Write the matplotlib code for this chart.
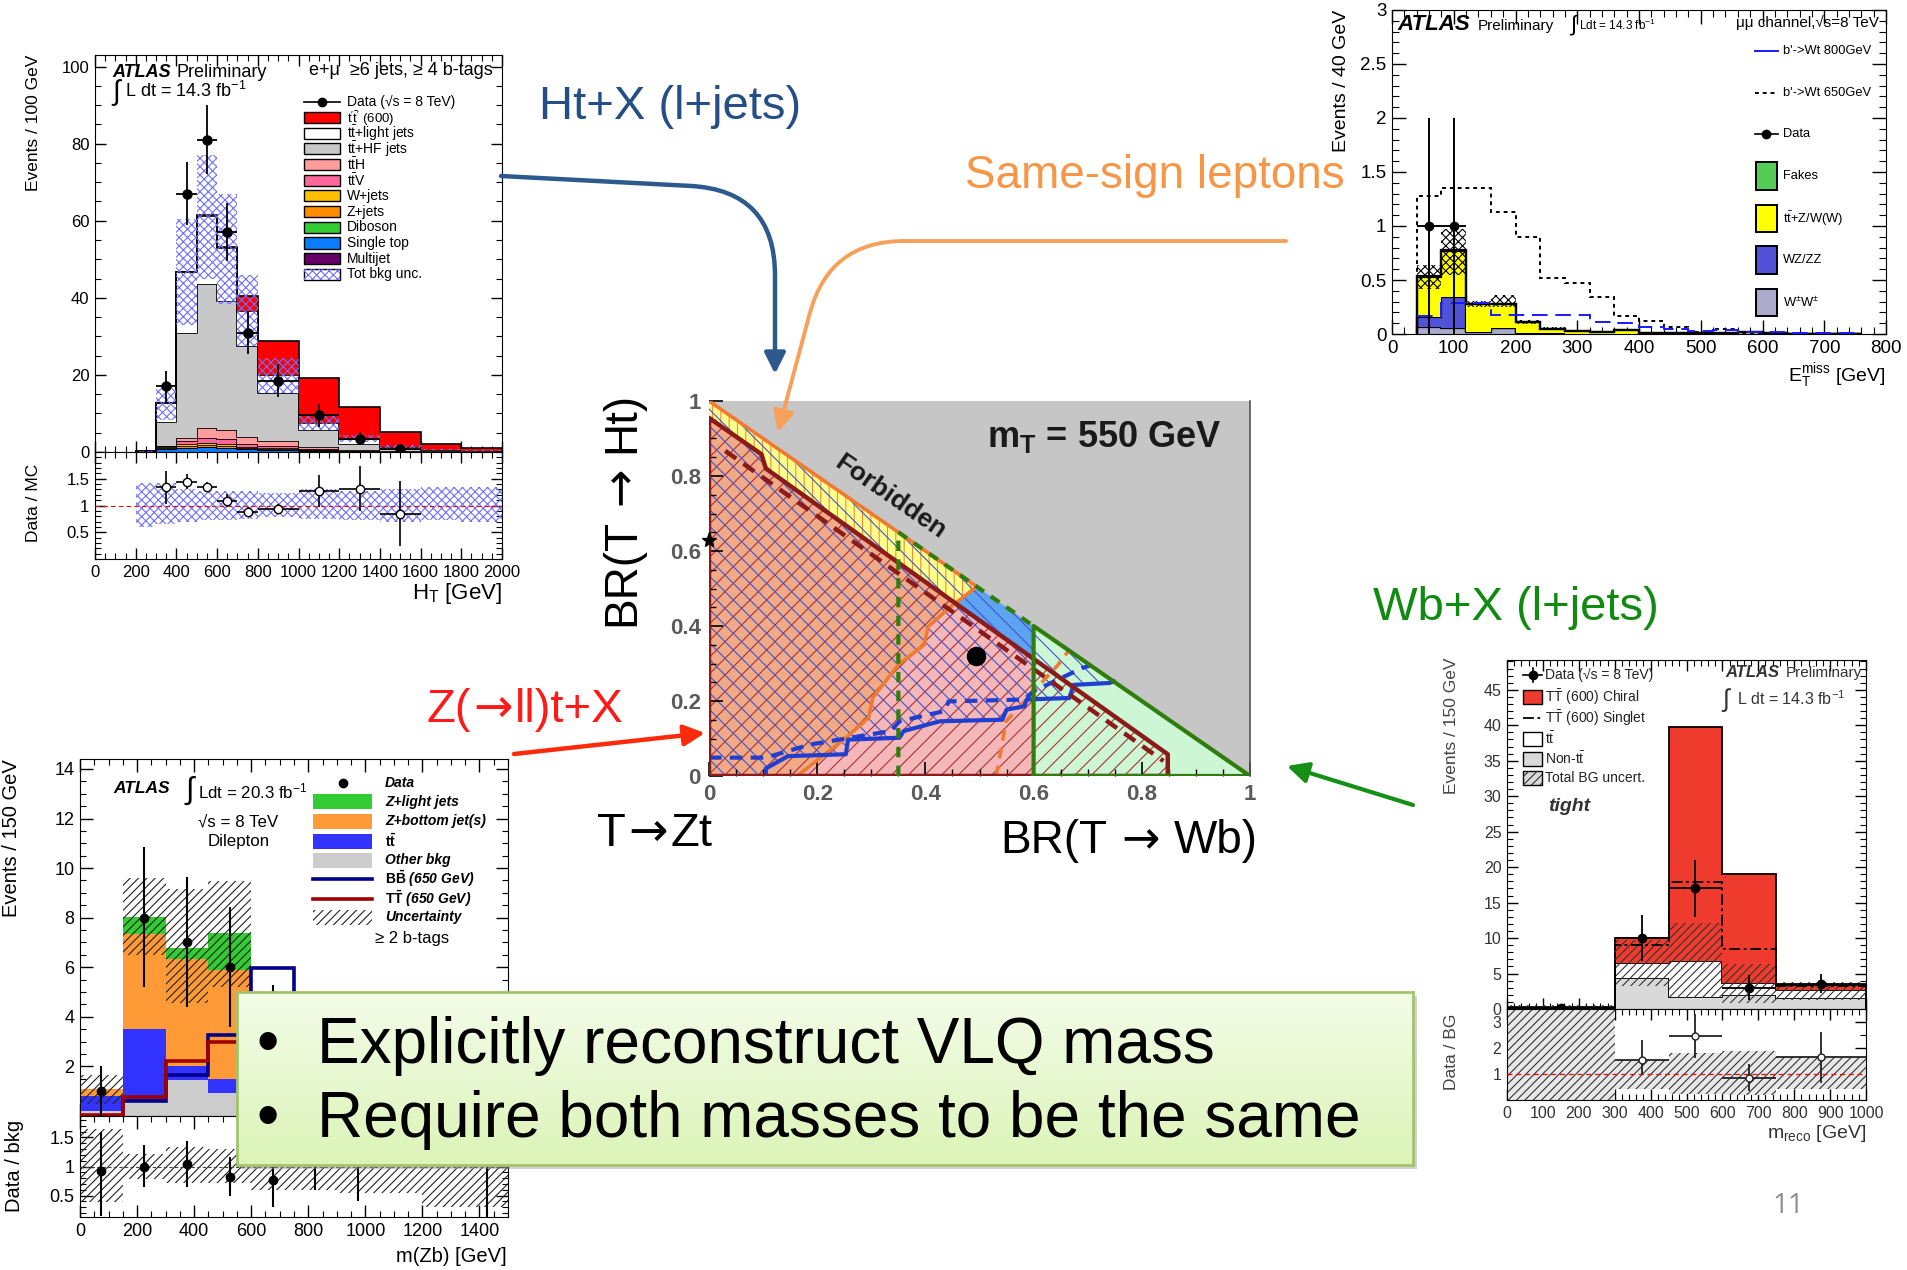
import numpy as np
import matplotlib
matplotlib.use("Agg")
import matplotlib.pyplot as plt
from matplotlib.patches import Rectangle, Polygon, FancyArrowPatch
from matplotlib.ticker import MultipleLocator, FixedLocator, FuncFormatter

plt.rcParams['font.family'] = ['Liberation Sans', 'DejaVu Sans']
plt.rcParams['mathtext.fontset'] = 'custom'
plt.rcParams['mathtext.rm'] = 'Liberation Sans'
plt.rcParams['mathtext.it'] = 'Liberation Sans:italic'
plt.rcParams['mathtext.bf'] = 'Liberation Sans:bold'
plt.rcParams['mathtext.sf'] = 'Liberation Sans'
plt.rcParams['hatch.linewidth'] = 0.8

# ======================= DATA =======================
# --- top-left: HT distribution (e+mu, >=6 jets, >=4 b-tags)
ht_edges = [200, 300, 400, 500, 600, 700, 800, 1000, 1200, 1400, 1600, 1800, 2000]
ht_multijet = [0, 0.05, 0.1, 0.1, 0.1, 0.1, 0.05, 0.05, 0, 0, 0, 0]
ht_singletop = [0, 0.7, 1.0, 1.2, 1.0, 0.6, 0.5, 0.3, 0.1, 0.05, 0, 0]
ht_diboson = [0, 0.05, 0.05, 0.05, 0.05, 0.05, 0.03, 0.02, 0, 0, 0, 0]
ht_zjets = [0, 0.2, 0.3, 0.4, 0.3, 0.2, 0.2, 0.1, 0.05, 0, 0, 0]
ht_wjets = [0, 0.3, 0.5, 0.6, 0.5, 0.3, 0.3, 0.1, 0.05, 0, 0, 0]
ht_ttv = [0, 0.2, 0.9, 1.3, 1.5, 0.9, 0.6, 0.3, 0.15, 0.05, 0.02, 0]
ht_tth = [0, 0.1, 0.8, 2.6, 2.2, 1.7, 1.3, 0.4, 0.2, 0.05, 0.02, 0]
ht_tthf = [0.1, 6.1, 27.35, 37.35, 33.45, 23.75, 12.3, 4.5, 1.65, 0.7, 0.26, 0.1]
ht_ttlight = [0.05, 5.0, 15.8, 17.6, 13.9, 8.9, 4.6, 1.75, 1.25, 0.45, 0.3, 0.2]
ht_signal = [0, 0, 0, 0.2, 0.3, 4.1, 9.0, 11.8, 8.35, 3.85, 1.4, 0.75]
ht_unc_lo = [0.1, 8.4, 33, 45, 38.4, 27.6, 15.3, 5.6, 2.5, 0.9, 0.4, 0.2]
ht_unc_hi = [0.2, 17, 60.4, 77, 67, 45.8, 24.5, 9.4, 4.4, 1.7, 0.8, 0.4]
ht_data_x = [350, 450, 550, 650, 750, 900, 1100, 1300, 1500]
ht_data_xerr = [50, 50, 50, 50, 50, 100, 100, 100, 100]
ht_data_y = [17, 67, 81, 57, 31, 18.5, 9.5, 3.5, 0.8]
ht_data_err = [4.1, 8.2, 9, 7.5, 5.5, 4.3, 3.0, 1.8, 1.0]
ht_ratio_y = [1.35, 1.43, 1.34, 1.08, 0.88, 0.93, 1.28, 1.31, 0.85]
ht_ratio_lo = [0.33, 0.13, 0.09, 0.10, 0.08, 0.08, 0.30, 0.42, 0.60]
ht_ratio_hi = [0.30, 0.15, 0.10, 0.14, 0.10, 0.10, 0.29, 0.42, 0.60]
ht_rband_lo = [0.6, 0.65, 0.7, 0.72, 0.72, 0.75, 0.78, 0.75, 0.72, 0.7, 0.72, 0.7]
ht_rband_hi = [1.42, 1.42, 1.3, 1.28, 1.28, 1.28, 1.23, 1.3, 1.28, 1.3, 1.35, 1.35]

# --- top-right: MET, same-sign mu mu
met_edges = [40, 80, 120, 160, 200, 240, 280, 320, 360, 400, 440, 480, 520, 560, 600, 640, 680, 720, 760]
met_ww = [0.0625, 0.056, 0.016, 0.06, 0.005, 0.005, 0.002, 0, 0, 0, 0, 0, 0, 0, 0, 0, 0, 0]
met_wz = [0.094, 0.284, 0.004, 0, 0.005, 0, 0, 0, 0, 0, 0, 0, 0, 0, 0, 0, 0, 0]
met_ttv = [0.374, 0.43, 0.26, 0.22, 0.10, 0.042, 0.023, 0.02, 0.037, 0.008, 0.005, 0.005, 0.01, 0.02, 0.005, 0.003, 0, 0]
met_fakes = [0.005, 0.005, 0, 0, 0, 0, 0, 0, 0, 0, 0, 0, 0, 0, 0, 0, 0, 0]
met_unc_lo = [0.42, 0.55, 0.25, 0.25, 0.09, 0.04, 0.02, 0.015, 0.03, 0.005, 0.003, 0.003, 0.006, 0.015, 0.003, 0.002, 0, 0]
met_unc_hi = [0.64, 0.97, 0.31, 0.36, 0.13, 0.065, 0.035, 0.03, 0.045, 0.012, 0.008, 0.008, 0.015, 0.03, 0.008, 0.005, 0, 0]
met_b650 = [1.275, 1.35, 1.35, 1.13, 0.897, 0.52, 0.475, 0.344, 0.166, 0.125, 0.0625, 0.015, 0.047, 0.01, 0.005, 0.003, 0, 0]
met_b800 = [0.17, 0.29, 0.29, 0.18, 0.18, 0.18, 0.18, 0.115, 0.1, 0.0625, 0.047, 0.025, 0.04, 0.02, 0.015, 0.008, 0.005, 0.005]
met_data_x = [60, 100]
met_data_y = [1, 1]
met_data_err = [1, 1]

# --- center: BR(T->Wb) vs BR(T->Ht) exclusion, mT = 550 GeV
allowed_x = [0, 1, 0]
allowed_y = [0, 0, 1]
zt_obs_x = [0, 0, 0.097, 0.105, 0.848, 0.848]
zt_obs_y = [0, 0.955, 0.858, 0.82, 0.058, 0]
zt_exp_x = [0.03, 0.84]
zt_exp_y = [0.867, 0.04]
ss_obs_x = [0.163, 0.253, 0.295, 0.303, 0.351, 0.398, 0.405, 0.443, 0.495]
ss_obs_y = [0, 0.102, 0.155, 0.210, 0.298, 0.350, 0.398, 0.447, 0.505]
ss_exp_x = [0.53, 0.534, 0.549, 0.645, 0.665]
ss_exp_y = [0, 0.022, 0.146, 0.296, 0.335]
htx_obs_x = [0.105, 0.105, 0.146, 0.253, 0.257, 0.352, 0.36, 0.427, 0.542, 0.55, 0.583, 0.587, 0.666, 0.674, 0.74, 0.748]
htx_obs_y = [0, 0.02, 0.053, 0.058, 0.097, 0.102, 0.12, 0.146, 0.150, 0.177, 0.186, 0.204, 0.208, 0.243, 0.248, 0.252]
htx_exp_x = [0, 0.105, 0.187, 0.336, 0.352, 0.435, 0.443, 0.583, 0.6, 0.69, 0.705]
htx_exp_y = [0.049, 0.049, 0.084, 0.12, 0.146, 0.173, 0.199, 0.204, 0.226, 0.288, 0.295]
wb_obs_x = [0.6, 1.0, 0.6]
wb_obs_y = [0, 0, 0.4]
wb_exp_x = [0.35, 0.35, 0.6]
wb_exp_y = [0, 0.65, 0.4]
best_fit = (0.493, 0.319)
star_pt = (0.0, 0.63)

# --- bottom-left: m(Zb), dilepton >=2 b-tags
zb_edges = [0, 150, 300, 450, 600, 750, 900, 1050, 1200, 1350, 1500]
zb_other = [0.19, 0.66, 1.47, 0.93, 0.7, 0.5, 0.3, 0.2, 0.1, 0.05]
zb_tt = [0.61, 2.83, 0.56, 0.56, 0.4, 0.25, 0.15, 0.1, 0.05, 0.02]
zb_zbottom = [0.29, 3.86, 4.31, 4.41, 1.8, 1.2, 0.7, 0.4, 0.2, 0.1]
zb_zlight = [0.0, 0.67, 0.42, 1.49, 0.3, 0.2, 0.1, 0.05, 0.03, 0.01]
zb_unc_lo = [0.5, 6.5, 4.56, 5.2, 2.5, 1.5, 0.8, 0.4, 0.2, 0.1]
zb_unc_hi = [1.67, 9.6, 9.14, 9.47, 4.5, 3.2, 1.8, 1.0, 0.6, 0.3]
zb_bb650 = [0.02, 0.6, 1.65, 3.28, 5.97, 4.0, 1.5, 0.6, 0.2, 0.1]
zb_tt650 = [0.05, 0.75, 2.21, 2.97, 3.2, 2.0, 1.0, 0.5, 0.2, 0.1]
zb_data_x = [75, 225, 375, 525, 675, 825, 975, 1425]
zb_data_y = [1, 8, 7, 6, 3, 2, 1, 0.4]
zb_data_lo = [1.0, 2.8, 2.6, 2.4, 1.6, 1.3, 0.8, 0.35]
zb_data_hi = [1.0, 2.85, 2.65, 2.44, 2.3, 2.0, 1.5, 1.2]
zb_ratio_x = [75, 225, 375, 525, 675, 825, 975, 1425]
zb_ratio_y = [0.93, 1.0, 1.04, 0.82, 0.77, 1.1, 1.1, 1.1]
zb_ratio_lo = [0.79, 0.35, 0.39, 0.33, 0.46, 0.5, 0.7, 1.0]
zb_ratio_hi = [0.67, 0.37, 0.40, 0.35, 0.46, 0.5, 0.7, 1.0]
zb_rband_lo = [0.38, 0.78, 0.71, 0.71, 0.6, 0.6, 0.55, 0.55, 0.3, 0.3]
zb_rband_hi = [1.65, 1.21, 1.34, 1.31, 1.4, 1.4, 1.45, 1.45, 1.7, 1.7]

# --- bottom-right: m_reco, tight
mr_edges = [0, 300, 450, 600, 750, 1000]
mr_nontt = [0.1, 4.3, 1.74, 2.0, 1.5]
mr_tt = [0.1, 2.2, 4.96, 1.6, 1.2]
mr_chiral = [0.05, 3.5, 33.0, 15.4, 0.7]
mr_singlet = [0.2, 9.0, 17.9, 8.4, 3.2]
mr_unc_lo = [0.0, 3.2, 1.5, 0.8, 1.3]
mr_unc_hi = [0.5, 9.7, 12.1, 6.4, 3.8]
mr_data_x = [150, 375, 525, 675, 875]
mr_data_xerr = [150, 75, 75, 75, 125]
mr_data_y = [0.2, 10, 17, 3, 3.5]
mr_data_lo = [0.2, 3.2, 4.0, 1.7, 1.2]
mr_data_hi = [0.3, 3.2, 4.0, 1.8, 1.5]
mr_ratio_x = [375, 525, 675, 875]
mr_ratio_xerr = [75, 75, 75, 125]
mr_ratio_y = [1.55, 2.45, 0.85, 1.65]
mr_ratio_lo = [0.6, 0.85, 0.5, 1.0]
mr_ratio_hi = [0.75, 0.85, 0.55, 0.95]
mr_rband_lo = [0.0, 0.42, 0.25, 0.2, 0.42]
mr_rband_hi = [3.5, 1.54, 1.8, 1.9, 1.67]

# ======================= HELPERS =======================
W, H = 1907, 1270
fig = plt.figure(figsize=(W / 100, H / 100), dpi=100)
fig.patch.set_facecolor('white')
_renderer = fig.canvas.get_renderer()
LIB = ['Liberation Sans']
DJV = ['DejaVu Sans']


def add_ax(l, t, r, b, **kw):
    return fig.add_axes([l / W, 1 - b / H, (r - l) / W, (b - t) / H], **kw)


def ftext(x, y, s, **kw):
    return fig.text(x / W, 1 - y / H, s, **kw)


def compose(center, base, pieces, fontsize, color, vertical=False):
    """Text assembled from pieces with their own font family; None string = gap in em."""
    widths = []
    for s, fam in pieces:
        if s is None:
            widths.append(fam * fontsize * 100 / 72)
        else:
            t = fig.text(0, 0, s, fontsize=fontsize, family=fam)
            widths.append(t.get_window_extent(_renderer).width)
            t.remove()
    pos = -sum(widths) / 2
    for (s, fam), w in zip(pieces, widths):
        if s is not None:
            if vertical:
                ftext(base, center - pos, s, fontsize=fontsize, family=fam, color=color,
                      rotation=90, rotation_mode='anchor', ha='left', va='baseline')
            else:
                ftext(center + pos, base, s, fontsize=fontsize, family=fam, color=color,
                      ha='left', va='baseline')
        pos += w


gfmt = FuncFormatter(lambda v, p: f"{v:g}")


def root_style(ax, xmaj, xmin, ymaj, ymin, size, length=8, top=True, right=True):
    ax.xaxis.set_major_locator(MultipleLocator(xmaj))
    ax.xaxis.set_minor_locator(MultipleLocator(xmin))
    ax.yaxis.set_major_locator(MultipleLocator(ymaj))
    ax.yaxis.set_minor_locator(MultipleLocator(ymin))
    ax.xaxis.set_major_formatter(gfmt)
    ax.yaxis.set_major_formatter(gfmt)
    ax.tick_params(which='both', direction='in', top=top, right=right, labelsize=size, pad=4)
    ax.tick_params(which='major', length=length, width=1)
    ax.tick_params(which='minor', length=length / 2, width=0.8)


def draw_stack(ax, edges, comps, colors, outline=True, z=2, lw=1.0):
    base = np.zeros(len(edges) - 1)
    for i, (vals, col) in enumerate(zip(comps, colors)):
        top = base + np.asarray(vals, float)
        ax.stairs(top, edges, baseline=base, fill=True, facecolor=col,
                  edgecolor='none', lw=0, zorder=z + 0.01 * i)
        if outline:
            ax.stairs(top, edges, baseline=0, fill=False, edgecolor='black',
                      lw=lw, zorder=z + 0.01 * i + 0.005)
        base = top
    return base


def leg_box(ax, x, y, w, h, fc, ec='black', hatch=None, hc='black', lw=1.0):
    ax.add_patch(Rectangle((x, y - h / 2), w, h, transform=ax.transAxes, facecolor=fc,
                           edgecolor=ec if ec else 'none', lw=lw if ec else 0,
                           clip_on=False, zorder=8))
    if hatch:
        ax.add_patch(Rectangle((x, y - h / 2), w, h, transform=ax.transAxes, facecolor='none',
                               edgecolor=hc, hatch=hatch, lw=0, clip_on=False, zorder=8.1))


def leg_line(ax, x, y, w, color, ls='-', lw=1.5):
    ax.plot([x, x + w], [y, y], transform=ax.transAxes, color=color, ls=ls, lw=lw,
            clip_on=False, zorder=8)


def leg_marker(ax, x, y, w, ms=6, mfc='black'):
    ax.plot([x, x + w], [y, y], transform=ax.transAxes, color='black', lw=1.2, clip_on=False, zorder=8)
    ax.plot([x + w / 2], [y], 'o', transform=ax.transAxes, color='black', ms=ms, mfc=mfc,
            clip_on=False, zorder=8.1)


# ======================= TOP-LEFT =======================
axA = add_ax(95, 55, 502, 452)
axA.set_xlim(0, 2000)
axA.set_ylim(0, 103)
ht_cols = ['#660066', '#0a7cff', '#33cc33', '#ff8c00', '#ffc000', '#ff6699', '#ff9c9c',
           '#c8c8c8', 'white', '#ff0000']
draw_stack(axA, ht_edges, [ht_multijet, ht_singletop, ht_diboson, ht_zjets, ht_wjets, ht_ttv,
                           ht_tth, ht_tthf, ht_ttlight, ht_signal], ht_cols, lw=1.2)
axA.stairs(ht_unc_hi, ht_edges, baseline=ht_unc_lo, fill=True, facecolor='none',
           edgecolor='#6f6fff', hatch='xxxx', lw=0, zorder=4)
axA.errorbar(ht_data_x, ht_data_y, yerr=ht_data_err, xerr=ht_data_xerr, fmt='o', color='black',
             ms=6.5, elinewidth=1.3, capsize=0, zorder=10)
root_style(axA, 200, 50, 20, 5, 12)
axA.tick_params(labelbottom=False)
axA.text(0.042, 0.955, 'ATLAS', transform=axA.transAxes, fontsize=13, fontweight='bold',
         style='italic', va='center')
axA.text(0.2, 0.955, 'Preliminary', transform=axA.transAxes, fontsize=13, va='center')
axA.text(0.042, 0.905, '\u222b', transform=axA.transAxes, fontsize=20, va='center')
axA.text(0.074, 0.91, 'L dt = 14.3 fb$^{-1}$', transform=axA.transAxes, fontsize=13, va='center')
axA.text(0.978, 0.96, 'e+\u03bc  \u22656 jets, \u2265 4 b-tags', transform=axA.transAxes,
         fontsize=13, va='center', ha='right')
ht_leg_labels = ['Data (\u221as = 8 TeV)', r"$\mathrm{t}'\bar{\mathrm{t}}'$ (600)",
                 r"t$\bar{\rm t}$+light jets", r"t$\bar{\rm t}$+HF jets", r"t$\bar{\rm t}$H",
                 r"t$\bar{\rm t}$V", 'W+jets', 'Z+jets', 'Diboson', 'Single top', 'Multijet',
                 'Tot bkg unc.']
ht_leg_cols = [None, '#ff0000', 'white', '#c8c8c8', '#ff9c9c', '#ff6699', '#ffc000', '#ff8c00',
               '#33cc33', '#0a7cff', '#660066', 'white']
for i, (lab, col) in enumerate(zip(ht_leg_labels, ht_leg_cols)):
    yy = 0.882 - i * 0.0395
    if i == 0:
        leg_marker(axA, 0.513, yy, 0.09)
    elif i == len(ht_leg_labels) - 1:
        leg_box(axA, 0.513, yy, 0.09, 0.028, 'white', hatch='xxxx', hc='#6f6fff')
    else:
        leg_box(axA, 0.513, yy, 0.09, 0.028, col)
    axA.text(0.618, yy - (0.004 if i == 1 else 0), lab, transform=axA.transAxes,
             fontsize=9.5 if i == 1 else 10, va='center')

axAr = add_ax(95, 452, 502, 559)
axAr.set_xlim(0, 2000)
axAr.set_ylim(0, 2)
axAr.stairs(ht_rband_hi, ht_edges, baseline=ht_rband_lo, fill=True, facecolor='none',
            edgecolor='#7070ff', hatch='xxxx', lw=0, zorder=2)
axAr.axhline(1, color='red', ls=(0, (4, 3)), lw=0.8, zorder=3)
axAr.errorbar(ht_data_x, ht_ratio_y, yerr=[ht_ratio_lo, ht_ratio_hi], xerr=ht_data_xerr, fmt='o',
              color='black', mfc='white', mec='black', ms=6, elinewidth=1.2, capsize=0, zorder=10)
root_style(axAr, 200, 50, 0.5, 0.1, 12)
axAr.yaxis.set_major_locator(FixedLocator([0.5, 1, 1.5]))

ftext(34, 55, 'Events / 100 GeV', rotation=90, ha='center', va='top', fontsize=12.5)
ftext(34, 503, 'Data / MC', rotation=90, ha='center', va='center', fontsize=12.5)
ftext(502, 593, r'H$_{\rm T}$ [GeV]', ha='right', va='center', fontsize=16)

# ======================= TOP-RIGHT =======================
axB = add_ax(1392, 10, 1886, 334)
axB.set_xlim(0, 800)
axB.set_ylim(0, 3)
draw_stack(axB, met_edges, [met_ww, met_wz, met_ttv, met_fakes],
           ['#aaaacc', '#5252d8', '#ffff00', '#55cc55'], lw=1.6)
axB.stairs(met_unc_hi, met_edges, baseline=met_unc_lo, fill=True, facecolor='none',
           edgecolor='black', hatch='xxxx', lw=0, zorder=4)
axB.stairs(met_b650, met_edges, baseline=0, color='black', ls=(0, (2, 2)), lw=1.4, zorder=5)
axB.stairs(met_b800, met_edges, baseline=None, color='#1a1aff', ls=(0, (8, 4)), lw=1.4, zorder=5)
axB.errorbar(met_data_x, met_data_y, yerr=met_data_err, xerr=20, fmt='o', color='black', ms=6,
             elinewidth=1.4, capsize=0, zorder=10)
root_style(axB, 100, 20, 0.5, 0.1, 13.5, length=10)
axB.text(0.012, 0.955, 'ATLAS', transform=axB.transAxes, fontsize=16, fontweight='bold',
         style='italic', va='center')
axB.text(0.174, 0.95, 'Preliminary', transform=axB.transAxes, fontsize=11, va='center')
axB.text(0.36, 0.955, '\u222b', transform=axB.transAxes, fontsize=16, va='center')
axB.text(0.378, 0.952, 'Ldt = 14.3 fb$^{-1}$', transform=axB.transAxes, fontsize=8.5, va='center')
axB.text(0.986, 0.963, '\u03bc\u03bc channel,\u221as=8 TeV', transform=axB.transAxes, fontsize=11,
         va='center', ha='right')
met_leg_y = [0.873, 0.745, 0.618, 0.487, 0.356, 0.228, 0.097]
met_leg_labels = ["b'->Wt 800GeV", "b'->Wt 650GeV", 'Data', 'Fakes', r't$\bar{\rm t}$+Z/W(W)',
                  'WZ/ZZ', 'W$^{\\pm}$W$^{\\pm}$']
leg_line(axB, 0.734, met_leg_y[0], 0.047, '#1a1aff', lw=1.4)
leg_line(axB, 0.734, met_leg_y[1], 0.047, 'black', ls=(0, (2, 2)), lw=1.4)
leg_marker(axB, 0.734, met_leg_y[2], 0.047, ms=6)
for yy, col in zip(met_leg_y[3:], ['#55cc55', '#ffff00', '#5252d8', '#aaaacc']):
    leg_box(axB, 0.736, yy, 0.044, 0.085, col, lw=1.4)
for yy, lab in zip(met_leg_y, met_leg_labels):
    axB.text(0.792, yy, lab, transform=axB.transAxes, fontsize=9.3, va='center')
ftext(1341, 10, 'Events / 40 GeV', rotation=90, ha='center', va='top', fontsize=14)
ftext(1886, 376, r'E$_{\rm T}^{\rm miss}$ [GeV]', ha='right', va='center', fontsize=14)

# ======================= CENTER =======================
axC = add_ax(709, 401, 1250, 776)
axC.set_xlim(0, 1)
axC.set_ylim(0, 1)
axC.set_facecolor('#c6c6c6')
for k, s in axC.spines.items():
    s.set_visible(k == 'right')
axC.spines['right'].set_color('#555555')
axC.spines['right'].set_linewidth(1.2)


def poly(xs, ys, **kw):
    p = Polygon(np.column_stack([xs, ys]), closed=True, **kw)
    axC.add_patch(p)
    return p


poly(allowed_x, allowed_y, facecolor='white', edgecolor='none', zorder=0.5)
blue_reg_x = [0] + htx_obs_x + [0]
blue_reg_y = [0] + htx_obs_y + [1]
orange_reg_x = [0] + ss_obs_x + [0]
orange_reg_y = [0] + ss_obs_y + [1]
poly(blue_reg_x, blue_reg_y, facecolor='#5ea2f2', edgecolor='none', zorder=1.0)
poly(orange_reg_x, orange_reg_y, facecolor='#ffff8c', edgecolor='none', zorder=1.2)
poly(orange_reg_x, orange_reg_y, facecolor='none', edgecolor='#f08a3a', hatch='||', lw=0, zorder=1.25)
brown_patch = poly(zt_obs_x, zt_obs_y, facecolor='#f4b8ba', edgecolor='none', zorder=1.3)
poly(wb_obs_x, wb_obs_y, facecolor='#cdf6d4', edgecolor='none', zorder=1.32)
tint = poly(orange_reg_x, orange_reg_y, facecolor='#f0a060', alpha=0.55, edgecolor='none', zorder=1.35)
tint.set_clip_path(brown_patch)
poly(zt_obs_x, zt_obs_y, facecolor='none', edgecolor='#a83232', hatch='//', lw=0, zorder=1.4)
poly(blue_reg_x, blue_reg_y, facecolor='none', edgecolor='#3b55d6', hatch='\\\\', lw=0, zorder=1.45)

axC.plot(ss_obs_x + [0], ss_obs_y + [1], color='#f07a30', lw=2.6, zorder=3)
axC.plot(ss_exp_x, ss_exp_y, color='#f07a30', lw=2.6, ls=(0, (3, 2)), zorder=3)
axC.plot(zt_obs_x + [0], zt_obs_y + [0], color='#8b1a1a', lw=3.2, zorder=3.2)
axC.plot(zt_exp_x, zt_exp_y, color='#8b1a1a', lw=3.2, ls=(0, (3, 2)), zorder=3.2)
axC.plot(htx_obs_x, htx_obs_y, color='#1f3fd0', lw=3, zorder=3.1)
axC.plot(htx_exp_x, htx_exp_y, color='#1f3fd0', lw=3, ls=(0, (3, 2)), zorder=3.1)
axC.plot(wb_obs_x + [wb_obs_x[0]], wb_obs_y + [wb_obs_y[0]], color='#2f7d0c', lw=3, zorder=3.3)
axC.plot(wb_exp_x, wb_exp_y, color='#2f7d0c', lw=3, ls=(0, (2.5, 2)), zorder=3.3)
axC.plot([best_fit[0]], [best_fit[1]], 'o', color='black', ms=13, zorder=5)
axC.plot([star_pt[0]], [star_pt[1]], '*', color='black', ms=11, zorder=5, clip_on=False)
axC.text(0.335, 0.745, 'Forbidden', transform=axC.transAxes, rotation=-34.7, rotation_mode='anchor',
         ha='center', va='center', fontsize=19, fontweight='bold', color='#1a1a1a', zorder=6)
axC.text(0.73, 0.905, r'$\mathbf{m_{T}}$ = 550 GeV', transform=axC.transAxes, ha='center',
         va='center', fontsize=26, fontweight='bold', color='#1a1a1a', zorder=6)
axC.set_xticks([0, 0.2, 0.4, 0.6, 0.8, 1])
axC.set_yticks([0, 0.2, 0.4, 0.6, 0.8, 1])
axC.xaxis.set_minor_locator(MultipleLocator(0.05))
axC.yaxis.set_minor_locator(MultipleLocator(0.05))
axC.xaxis.set_major_formatter(gfmt)
axC.yaxis.set_major_formatter(gfmt)
axC.tick_params(which='both', direction='in', labelsize=16, labelcolor='#5a5a5a', pad=6)
axC.tick_params(which='major', length=10, width=1.2)
axC.tick_params(which='minor', length=5, width=1)
for t in axC.get_xticklabels() + axC.get_yticklabels():
    t.set_fontweight('bold')
compose(509, 634, [('BR(T', LIB), (None, 0.3), ('\u2192', DJV), (None, 0.3), ('Ht)', LIB)],
        33, 'black', vertical=True)
compose(1129, 853, [('BR(T', LIB), (None, 0.3), ('\u2192', DJV), (None, 0.3), ('Wb)', LIB)],
        33, 'black')
compose(655, 846, [('T', LIB), (None, 0.05), ('\u2192', DJV), (None, 0.05), ('Zt', LIB)],
        34, 'black')

# ======================= BOTTOM-LEFT =======================
axD = add_ax(80, 759, 508, 1116)
axD.set_xlim(0, 1500)
axD.set_ylim(0, 14.4)
draw_stack(axD, zb_edges, [zb_other, zb_tt, zb_zbottom, zb_zlight],
           ['#cccccc', '#3333ff', '#ff9a36', '#33cc33'], outline=False)
axD.stairs(zb_unc_hi, zb_edges, baseline=zb_unc_lo, fill=True, facecolor='none',
           edgecolor='#222222', hatch='////', lw=0, zorder=4)
axD.stairs(zb_bb650, zb_edges, baseline=0, color='#00008b', lw=2.6, zorder=5)
axD.stairs(zb_tt650, zb_edges, baseline=0, color='#a00000', lw=2.6, zorder=5.1)
axD.errorbar(zb_data_x, zb_data_y, yerr=[zb_data_lo, zb_data_hi], fmt='o', color='black', ms=6,
             elinewidth=1.5, capsize=0, zorder=10)
root_style(axD, 2, 0.5, 2, 0.5, 13, length=9)
axD.xaxis.set_major_locator(MultipleLocator(200))
axD.xaxis.set_minor_locator(MultipleLocator(50))
axD.yaxis.set_major_locator(FixedLocator([2, 4, 6, 8, 10, 12, 14]))
axD.tick_params(labelbottom=False)
axD.text(0.077, 0.916, 'ATLAS', transform=axD.transAxes, fontsize=12.5, fontweight='bold',
         style='italic', va='center')
axD.text(0.247, 0.91, '\u222b', transform=axD.transAxes, fontsize=22, va='center')
axD.text(0.275, 0.91, 'Ldt = 20.3 fb$^{-1}$', transform=axD.transAxes, fontsize=12.2, va='center')
axD.text(0.37, 0.824, '\u221as = 8 TeV', transform=axD.transAxes, fontsize=12.2, va='center',
         ha='center')
axD.text(0.37, 0.77, 'Dilepton', transform=axD.transAxes, fontsize=12.2, va='center', ha='center')
zb_leg_y = [0.933, 0.880, 0.826, 0.770, 0.717, 0.664, 0.608, 0.557]
zb_leg_labels = ['Data', 'Z+light jets', 'Z+bottom jet(s)', r'$\mathbf{t\bar{t}}$', 'Other bkg',
                 r'$\mathbf{B\bar{B}}$ (650 GeV)', r'$\mathbf{T\bar{T}}$ (650 GeV)', 'Uncertainty']
axD.plot([0.615], [zb_leg_y[0]], 'o', transform=axD.transAxes, color='black', ms=6, clip_on=False)
for yy, col in zip(zb_leg_y[1:5], ['#33cc33', '#ff9a36', '#3333ff', '#cccccc']):
    leg_box(axD, 0.545, yy, 0.138, 0.042, col, ec=None)
leg_line(axD, 0.545, zb_leg_y[5], 0.138, '#00008b', lw=2.6)
leg_line(axD, 0.545, zb_leg_y[6], 0.138, '#a00000', lw=2.6)
leg_box(axD, 0.545, zb_leg_y[7], 0.138, 0.042, 'none', ec=None, hatch='////', hc='#222222')
for yy, lab in zip(zb_leg_y, zb_leg_labels):
    axD.text(0.713, yy, lab, transform=axD.transAxes, fontsize=10, fontweight='bold',
             style='italic', va='center')
axD.text(0.69, 0.496, '\u2265 2 b-tags', transform=axD.transAxes, fontsize=12, va='center')

axDr = add_ax(80, 1116, 508, 1217)
axDr.set_xlim(0, 1500)
axDr.set_ylim(0.13, 1.87)
axDr.stairs(zb_rband_hi, zb_edges, baseline=zb_rband_lo, fill=True, facecolor='none',
            edgecolor='#222222', hatch='////', lw=0, zorder=2)
axDr.axhline(1, color='#444444', ls=(0, (3, 2)), lw=0.8, zorder=3)
axDr.errorbar(zb_ratio_x, zb_ratio_y, yerr=[zb_ratio_lo, zb_ratio_hi], fmt='o', color='black',
              ms=6, elinewidth=1.5, capsize=0, zorder=10)
root_style(axDr, 200, 50, 0.5, 0.1, 13, length=9)
axDr.yaxis.set_major_locator(FixedLocator([0.5, 1, 1.5]))
ftext(12, 759, 'Events / 150 GeV', rotation=90, ha='center', va='top', fontsize=14.5)
ftext(15, 1166, 'Data / bkg', rotation=90, ha='center', va='center', fontsize=14.5)
ftext(507, 1256, 'm(Zb) [GeV]', ha='right', va='center', fontsize=14.5)

# ======================= BOTTOM-RIGHT =======================
axE = add_ax(1507, 660, 1866, 1009)
axE.set_xlim(0, 1000)
axE.set_ylim(0, 49.2)
draw_stack(axE, mr_edges, [mr_nontt, mr_tt, mr_chiral], ['#d9d9d9', 'white', '#ee3b2e'], lw=1.3)
axE.stairs(mr_unc_hi, mr_edges, baseline=mr_unc_lo, fill=True, facecolor='none',
           edgecolor='#333333', hatch='////', lw=0, zorder=4)
axE.stairs(mr_singlet, mr_edges, baseline=None, color='black', ls=(0, (6, 2, 1.5, 2)), lw=1.3, zorder=5)
axE.errorbar(mr_data_x, mr_data_y, yerr=[mr_data_lo, mr_data_hi], xerr=mr_data_xerr, fmt='o',
             color='black', ms=6, elinewidth=1.3, capsize=0, zorder=10)
root_style(axE, 100, 20, 5, 1, 11.5, length=8)
axE.tick_params(labelbottom=False, labelcolor='#333333')
axE.text(0.607, 0.963, 'ATLAS', transform=axE.transAxes, fontsize=12, fontweight='bold',
         style='italic', va='center', color='#333333')
axE.text(0.776, 0.963, 'Preliminary', transform=axE.transAxes, fontsize=11, va='center',
         ha='left', color='#333333')
axE.text(0.60, 0.885, '\u222b', transform=axE.transAxes, fontsize=18, va='center', color='#333333')
axE.text(0.64, 0.89, 'L dt = 14.3 fb$^{-1}$', transform=axE.transAxes, fontsize=11.5, va='center',
         color='#333333')
axE.text(0.115, 0.579, 'tight', transform=axE.transAxes, fontsize=14, fontweight='bold',
         style='italic', va='center', color='#333333')
mr_leg_y = [0.957, 0.894, 0.834, 0.774, 0.716, 0.662]
mr_leg_labels = ['Data (\u221as = 8 TeV)', r'T$\bar{\rm T}$ (600) Chiral', r'T$\bar{\rm T}$ (600) Singlet',
                 r't$\bar{\rm t}$', r'Non-t$\bar{\rm t}$', 'Total BG uncert.']
leg_marker(axE, 0.045, mr_leg_y[0], 0.053, ms=6)
axE.plot([0.0715, 0.0715], [mr_leg_y[0] - 0.02, mr_leg_y[0] + 0.02], transform=axE.transAxes,
         color='black', lw=1.2, clip_on=False)
leg_box(axE, 0.045, mr_leg_y[1], 0.053, 0.04, '#ee3b2e')
leg_line(axE, 0.045, mr_leg_y[2], 0.053, 'black', ls=(0, (6, 2, 1.5, 2)), lw=1.3)
leg_box(axE, 0.045, mr_leg_y[3], 0.053, 0.04, 'white')
leg_box(axE, 0.045, mr_leg_y[4], 0.053, 0.04, '#d9d9d9')
leg_box(axE, 0.045, mr_leg_y[5], 0.053, 0.04, '#d9d9d9', hatch='////', hc='#333333')
for yy, lab in zip(mr_leg_y, mr_leg_labels):
    axE.text(0.106, yy, lab, transform=axE.transAxes, fontsize=10, va='center', color='#222222')

axEr = add_ax(1507, 1009, 1866, 1100)
axEr.set_xlim(0, 1000)
axEr.set_ylim(0, 3.5)
axEr.stairs(mr_rband_hi, mr_edges, baseline=mr_rband_lo, fill=True, facecolor='#e8e8e8',
            edgecolor='#333333', hatch='////', lw=0, zorder=2)
axEr.axhline(1, color='red', ls=(0, (4, 3)), lw=0.9, zorder=3)
axEr.errorbar(mr_ratio_x, mr_ratio_y, yerr=[mr_ratio_lo, mr_ratio_hi], xerr=mr_ratio_xerr, fmt='o',
              color='#222222', mfc='white', ms=5, elinewidth=1.3, capsize=0, zorder=10)
root_style(axEr, 100, 20, 1, 0.5, 11.5, length=8)
axEr.yaxis.set_major_locator(FixedLocator([1, 2, 3]))
axEr.tick_params(labelcolor='#333333')
ftext(1451, 657, 'Events / 150 GeV', rotation=90, ha='center', va='top', fontsize=12.5,
      color='#444444')
ftext(1451, 1052, 'Data / BG', rotation=90, ha='center', va='center', fontsize=12.5, color='#444444')
ftext(1866, 1133, r'm$_{\rm reco}$ [GeV]', ha='right', va='center', fontsize=14, color='#333333')

# ======================= SLIDE ANNOTATIONS =======================
ftext(670, 107, 'Ht+X (l+jets)', ha='center', va='center', fontsize=34, color='#234f86')
ftext(1155, 176, 'Same-sign leptons', ha='center', va='center', fontsize=33, color='#f79646')
ftext(1516, 608, 'Wb+X (l+jets)', ha='center', va='center', fontsize=34, color='#108a10')
compose(525, 722, [('Z(', LIB), (None, 0.05), ('\u2192', DJV), (None, 0.05), ('ll)t+X', LIB)],
        34, '#ff1a1a')
ftext(1788, 1206, '11', ha='center', va='center', fontsize=20, color='#8c8c8c',
      family=['Open Sans', 'DejaVu Sans'])


def fpt(x, y):
    return (x / W, 1 - y / H)


def arrow(a, b, color, lw, cs):
    ar = FancyArrowPatch(fpt(*a), fpt(*b), transform=fig.transFigure, connectionstyle=cs,
                         arrowstyle='-|>,head_length=0.7,head_width=0.35', mutation_scale=18,
                         color=color, lw=lw, shrinkA=0, shrinkB=0, zorder=4)
    fig.add_artist(ar)


arrow((501, 176), (775, 374), '#2d5a8c', 3.2, 'angle,angleA=-3,angleB=90,rad=85')
arrow((1286, 241), (778, 432), '#f6a05a', 2.8, 'angle,angleA=0,angleB=75,rad=75')
arrow((514, 754), (705, 733), '#ff2a0a', 3.2, 'arc3,rad=0')
arrow((1413, 805), (1287, 766), '#168f16', 3.0, 'arc3,rad=0')

# green text box
shadow = Rectangle(fpt(241, 1169), (1413 - 237) / W, (1165 - 992) / H, transform=fig.transFigure,
                   facecolor='#9a9a9a', alpha=0.45, edgecolor='none', zorder=4.8)
fig.add_artist(shadow)
axG = add_ax(237, 992, 1413, 1165)
axG.set_zorder(5)
grad = np.linspace(0, 1, 64)[:, None]
top_c = np.array([0xf3, 0xfc, 0xe8]) / 255
bot_c = np.array([0xdc, 0xf4, 0xb8]) / 255
img = top_c[None, None, :] * (1 - grad[:, :, None]) + bot_c[None, None, :] * grad[:, :, None]
axG.imshow(img, aspect='auto', extent=[0, 1, 0, 1], origin='upper')
axG.set_xlim(0, 1)
axG.set_ylim(0, 1)
axG.set_xticks([])
axG.set_yticks([])
for s in axG.spines.values():
    s.set_color('#a3c46c')
    s.set_linewidth(2)
for yb, txt in [(1063, 'Explicitly reconstruct VLQ mass'), (1137, 'Require both masses to be the same')]:
    b = ftext(268, yb, '\u2022', ha='center', va='baseline', fontsize=46)
    t = ftext(317, yb, txt, ha='left', va='baseline', fontsize=46)
    b.set_zorder(6)
    t.set_zorder(6)

fig.savefig('out.png', dpi=100)
